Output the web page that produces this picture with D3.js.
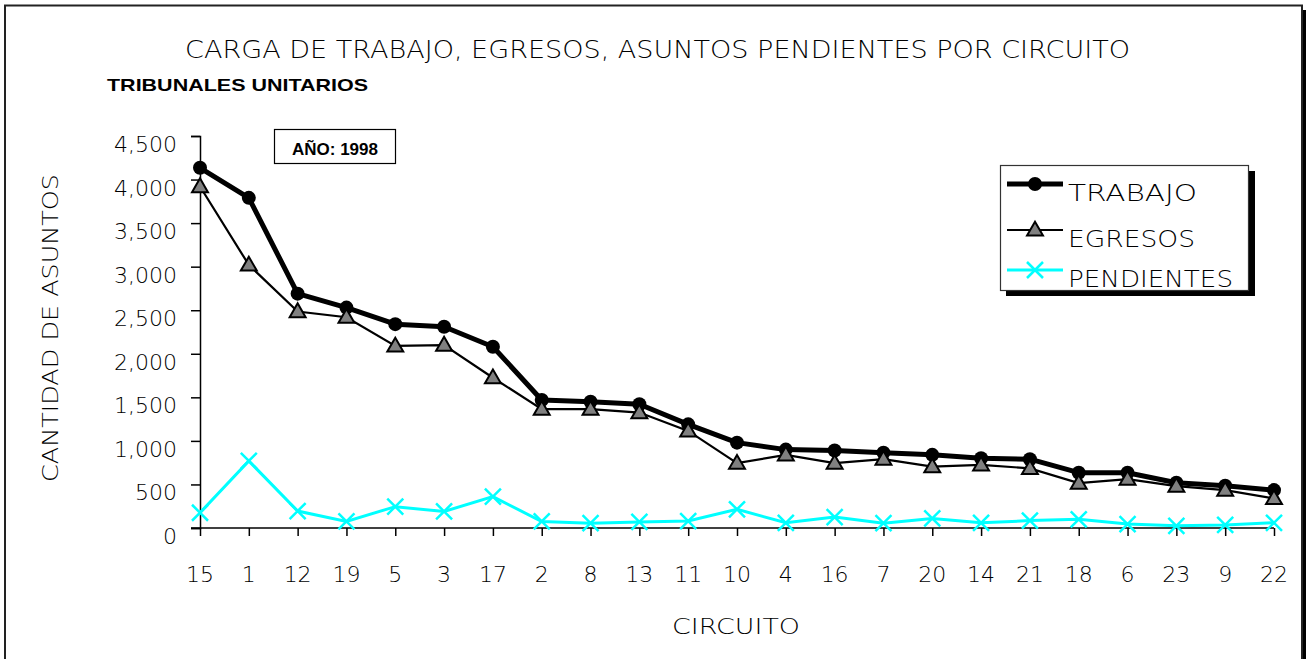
<!DOCTYPE html>
<html>
  <head>
    <meta charset="utf-8">
    <title>Carga de trabajo por circuito</title>
    <script src="https://cdn.jsdelivr.net/npm/d3@7/dist/d3.min.js"></script>
    <style>
      body { margin: 0; background: #ffffff; }
      text { fill: #000000; }
    </style>
  </head>
  <body>
    <svg width="1306" height="659" id="mainsvg"></svg>
    <script>
        // data; 
        const circuitos = ['15', '1', '12', '19', '5', '3', '17', '2', '8', '13', '11', '10',
            '4', '16', '7', '20', '14', '21', '18', '6', '23', '9', '22'];
        const trabajo = [4135, 3790, 2690, 2530, 2340, 2310, 2080, 1470, 1450, 1420, 1190, 980,
            900, 890, 865, 840, 800, 790, 635, 635, 520, 485, 435];
        const egresos = [3920, 3020, 2485, 2420, 2090, 2100, 1725, 1365, 1365, 1325, 1115, 745,
            840, 745, 790, 705, 725, 685, 515, 560, 480, 435, 340];
        const pendientes = [175, 770, 195, 75, 245, 190, 360, 75, 55, 70, 80, 215,
            60, 125, 55, 110, 60, 85, 100, 45, 25, 35, 60];
        const yTicks = [0, 500, 1000, 1500, 2000, 2500, 3000, 3500, 4000, 4500];

        const svg = d3.select('#mainsvg');
        const width = +svg.attr('width');
        const height = +svg.attr('height');
        const margin = {top: 136, right: 32, bottom: 131, left: 200};
        const innerWidth = width - margin.left - margin.right;
        const innerHeight = height - margin.top - margin.bottom;
        const axisFont = "'DejaVu Sans Light', 'DejaVu Sans', sans-serif";

        // chart frame with its dark shadow on the right; 
        svg.append('rect')
            .attr('x', 1303).attr('y', 10).attr('width', 3).attr('height', height - 10)
            .attr('fill', '#000');
        svg.append('path')
            .attr('d', `M5,${height}V5.5H1302V${height}`)
            .attr('fill', 'none').attr('stroke', '#222').attr('stroke-width', 2);

        // titles; 
        svg.append('text')
            .attr('x', 185).attr('y', 58)
            .attr('font-family', axisFont)
            .attr('font-size', 25).attr('font-weight', 300)
            .attr('textLength', 945).attr('lengthAdjust', 'spacingAndGlyphs')
            .text('CARGA DE TRABAJO, EGRESOS, ASUNTOS PENDIENTES POR CIRCUITO');
        svg.append('text')
            .attr('x', 107).attr('y', 91)
            .attr('font-family', "'Liberation Sans', Arial, sans-serif")
            .attr('font-size', 17).attr('font-weight', 'bold')
            .attr('textLength', 261).attr('lengthAdjust', 'spacingAndGlyphs')
            .text('TRIBUNALES UNITARIOS');

        const xScale = d3.scalePoint()
            .domain(circuitos)
            .range([margin.left, margin.left + innerWidth]);
        const yScale = d3.scaleLinear()
            .domain([0, 4500])
            .range([margin.top + innerHeight, margin.top]);

        // axes: lines and ticks from d3, labels placed from the same scales; 
        const yAxis = d3.axisLeft(yScale)
            .tickValues(yTicks)
            .tickFormat('')
            .tickSize(9);
        svg.append('g').call(yAxis).attr('id', 'yaxis')
            .attr('transform', `translate(${margin.left}, 0)`);
        const fmt = d3.format(',');
        svg.append('g').attr('id', 'ylabels')
            .selectAll('text').data(yTicks).enter().append('text')
            .attr('x', margin.left - 23)
            .attr('y', d => yScale(d) + 16)
            .attr('text-anchor', 'end')
            .attr('font-family', axisFont).attr('font-size', 22).attr('font-weight', 300)
            .text(d => fmt(d));

        const xAxis = d3.axisBottom(xScale)
            .tickFormat('')
            .tickSize(8);
        const xAxisGroup = svg.append('g').call(xAxis)
            .attr('transform', `translate(0, ${margin.top + innerHeight})`).attr('id', 'xaxis');
        xAxisGroup.select('.domain').attr('d', `M${margin.left - 9},0H${margin.left + innerWidth}`);
        svg.append('g').attr('id', 'xlabels')
            .selectAll('text').data(circuitos).enter().append('text')
            .attr('x', d => xScale(d))
            .attr('y', margin.top + innerHeight + 54)
            .attr('text-anchor', 'middle')
            .attr('font-family', axisFont).attr('font-size', 22).attr('font-weight', 300)
            .text(d => d);
        svg.selectAll('.domain, .tick line').attr('stroke', '#000').attr('stroke-width', 1.5);

        // axis titles; 
        svg.append('text')
            .attr('transform', `translate(58, ${margin.top + innerHeight / 2 - 4}) rotate(-90)`)
            .attr('text-anchor', 'middle')
            .attr('font-family', axisFont).attr('font-size', 22).attr('font-weight', 300)
            .attr('textLength', 308).attr('lengthAdjust', 'spacingAndGlyphs')
            .text('CANTIDAD DE ASUNTOS');
        svg.append('text')
            .attr('x', 736).attr('y', 634)
            .attr('text-anchor', 'middle')
            .attr('font-family', axisFont).attr('font-size', 22).attr('font-weight', 300)
            .attr('textLength', 128).attr('lengthAdjust', 'spacingAndGlyphs')
            .text('CIRCUITO');

        // series; 
        const line = d3.line()
            .x((d, i) => xScale(circuitos[i]))
            .y(d => yScale(d));

        const triangle = d3.symbol().type(d3.symbolTriangle).size(110);
        const cross = 'M-8,-8L8,8M-8,8L8,-8';
        const g = svg.append('g').attr('id', 'series');

        g.append('path').datum(trabajo)
            .attr('d', line).attr('fill', 'none')
            .attr('stroke', '#000').attr('stroke-width', 5).attr('stroke-linejoin', 'round');
        g.selectAll('.pt-trabajo').data(trabajo).enter().append('circle')
            .attr('class', 'pt-trabajo')
            .attr('cx', (d, i) => xScale(circuitos[i]))
            .attr('cy', d => yScale(d))
            .attr('r', 7).attr('fill', '#000');

        g.append('path').datum(egresos)
            .attr('d', line).attr('fill', 'none')
            .attr('stroke', '#000').attr('stroke-width', 2.2);
        g.selectAll('.pt-egresos').data(egresos).enter().append('path')
            .attr('class', 'pt-egresos')
            .attr('d', triangle)
            .attr('transform', (d, i) => `translate(${xScale(circuitos[i])}, ${yScale(d) + 1})`)
            .attr('fill', '#808080').attr('stroke', '#000').attr('stroke-width', 2);

        g.append('path').datum(pendientes)
            .attr('d', line).attr('fill', 'none')
            .attr('stroke', '#00ffff').attr('stroke-width', 3);
        g.selectAll('.pt-pendientes').data(pendientes).enter().append('path')
            .attr('class', 'pt-pendientes')
            .attr('d', cross)
            .attr('transform', (d, i) => `translate(${xScale(circuitos[i])}, ${yScale(d)})`)
            .attr('fill', 'none').attr('stroke', '#00ffff').attr('stroke-width', 2.5);

        // year label; 
        svg.append('rect')
            .attr('x', 274.5).attr('y', 129.5).attr('width', 121).attr('height', 34)
            .attr('fill', '#fff').attr('stroke', '#000').attr('stroke-width', 1.2);
        svg.append('text')
            .attr('x', 335).attr('y', 155)
            .attr('text-anchor', 'middle')
            .attr('font-family', "'Liberation Sans', Arial, sans-serif")
            .attr('font-size', 17).attr('font-weight', 'bold')
            .text('AÑO: 1998');

        // legend; 
        const legendItems = [
            {label: 'TRABAJO', len: 129},
            {label: 'EGRESOS', len: 127},
            {label: 'PENDIENTES', len: 165}
        ];
        const legend = svg.append('g').attr('transform', 'translate(1000, 165)');
        legend.append('rect')
            .attr('x', 6).attr('y', 6).attr('width', 249).attr('height', 125)
            .attr('fill', '#000');
        legend.append('rect')
            .attr('x', 0.5).attr('y', 0.5).attr('width', 248).attr('height', 125)
            .attr('fill', '#fff').attr('stroke', '#333').attr('stroke-width', 1.2);
        const ly = [19, 65, 105];
        legendItems.forEach((item, i) => {
            const row = legend.append('g').attr('transform', `translate(0, ${ly[i]})`);
            const stroke = i === 2 ? '#00ffff' : '#000';
            row.append('line')
                .attr('x1', 7).attr('x2', 63).attr('y1', 0).attr('y2', 0)
                .attr('stroke', stroke).attr('stroke-width', [5, 2.2, 3][i]);
            if (i === 0) {
                row.append('circle').attr('cx', 35).attr('cy', 0).attr('r', 7).attr('fill', '#000');
            } else if (i === 1) {
                row.append('path').attr('d', triangle)
                    .attr('transform', 'translate(35, 1)')
                    .attr('fill', '#808080').attr('stroke', '#000').attr('stroke-width', 2);
            } else {
                row.append('path').attr('d', cross)
                    .attr('transform', 'translate(35, 0)')
                    .attr('fill', 'none').attr('stroke', '#00ffff').attr('stroke-width', 2.5);
            }
            row.append('text')
                .attr('x', 68).attr('y', 17)
                .attr('font-family', axisFont).attr('font-size', 23).attr('font-weight', 300)
                .attr('textLength', item.len).attr('lengthAdjust', 'spacingAndGlyphs')
                .text(item.label);
        });
    </script>
  </body>
</html>
